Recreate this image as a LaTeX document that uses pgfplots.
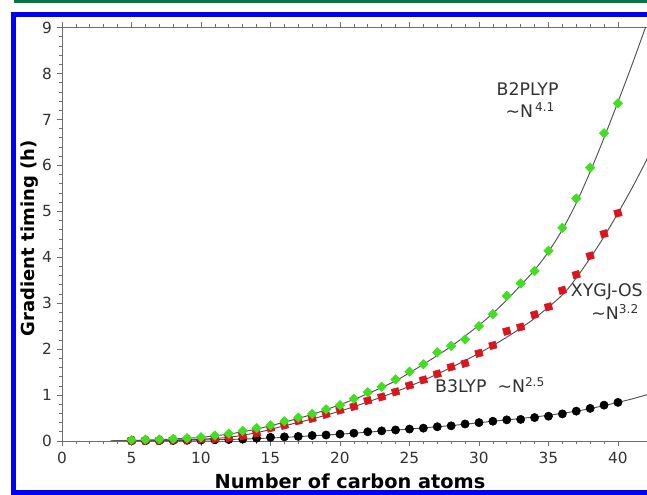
\documentclass[border=0pt]{standalone}
\usepackage{pgfplots}
\pgfplotsset{compat=1.18}
\usepackage{fontspec}
\setmainfont{DejaVu Sans}
\definecolor{frameblue}{RGB}{0,0,250}
\definecolor{topgreen}{RGB}{0,120,72}
\definecolor{mkgreen}{RGB}{64,224,32}
\definecolor{mkred}{RGB}{220,20,30}
\definecolor{fitgray}{RGB}{80,80,80}
\definecolor{axgray}{RGB}{110,110,110}
\definecolor{ticktext}{RGB}{50,50,50}
\begin{document}
\begin{tikzpicture}
\useasboundingbox (0,0) rectangle (485.25pt,371.25pt);
\clip (0,0) rectangle (485.25pt,371.25pt);
\fill[white] (0,0) rectangle (485.25pt,371.25pt);
% top rule and frame
\draw[topgreen, line width=2.25pt] (10.5pt,369.75pt) -- (490pt,369.75pt);
\draw[frameblue, line width=3.75pt] (500pt,360.4pt) -- (9.75pt,360.4pt) -- (9.75pt,2.2pt) -- (500pt,2.2pt);
\begin{axis}[
  scale only axis,
  anchor=south west,
  at={(46.5pt,40.5pt)},
  width=439.9pt, height=310.1pt,
  xmin=0, xmax=42.2, ymin=0, ymax=9,
  xtick={0,5,...,40}, ytick={0,1,...,9},
  minor x tick num=4, minor y tick num=4,
  xtick pos=both, xticklabel pos=lower, ytick pos=left,
  tick align=outside,
  major tick length=4pt, minor tick length=2.5pt,
  axis line style={axgray, line width=0.6pt},
  every tick/.style={axgray, line width=0.5pt},
  /pgf/number format/assume math mode=true,
  tick label style={font=\fontsize{11.5}{12}\selectfont, text=ticktext},
  xticklabel style={yshift=-1pt},
  xlabel={Number of carbon atoms},
  ylabel={Gradient timing (h)},
  xlabel style={font=\fontsize{14.5}{16}\selectfont\bfseries, at={(axis description cs:0.491,0)}, anchor=center, yshift=-30pt},
  ylabel style={font=\fontsize{13.5}{15}\selectfont\bfseries, at={(axis description cs:-0.055,0.49)}, anchor=center},
  clip=true,
]
% B3LYP data
\addplot[only marks, mark=*, mark size=3.1pt, mark options={draw=black, fill=black}] coordinates {
(5,0.003) (6,0.005) (7,0.008) (8,0.012) (9,0.016) (10,0.02) (11,0.026) (12,0.033) (13,0.04) (14,0.06)
(15,0.08) (16,0.09) (17,0.10) (18,0.12) (19,0.13) (20,0.15) (21,0.17) (22,0.20) (23,0.22) (24,0.24)
(25,0.26) (26,0.28) (27,0.31) (28,0.33) (29,0.37) (30,0.40) (31,0.43) (32,0.46) (33,0.47) (34,0.51)
(35,0.54) (36,0.59) (37,0.65) (38,0.71) (39,0.78) (40,0.84)};
% XYGJ-OS data
\addplot[only marks, mark=square*, mark size=2.6pt, mark options={draw=mkred, fill=mkred, rotate=15}] coordinates {
(5,0.01) (6,0.012) (7,0.015) (8,0.02) (9,0.025) (10,0.035) (11,0.05) (12,0.07) (13,0.11) (14,0.17)
(15,0.28) (16,0.34) (17,0.44) (18,0.49) (19,0.58) (20,0.67) (21,0.75) (22,0.88) (23,0.96) (24,1.07)
(25,1.21) (26,1.33) (27,1.46) (28,1.61) (29,1.69) (30,1.91) (31,2.08) (32,2.39) (33,2.48) (34,2.75)
(35,2.92) (36,3.28) (37,3.62) (38,4.03) (39,4.51) (40,4.96)};
% B2PLYP data
\addplot[only marks, mark=square*, mark size=2.5pt, mark options={draw=mkgreen, fill=mkgreen, rotate=45}] coordinates {
(5,0.02) (6,0.03) (7,0.035) (8,0.045) (9,0.06) (10,0.08) (11,0.12) (12,0.16) (13,0.22) (14,0.28)
(15,0.34) (16,0.43) (17,0.51) (18,0.59) (19,0.69) (20,0.78) (21,0.92) (22,1.06) (23,1.18) (24,1.34)
(25,1.51) (26,1.67) (27,1.93) (28,2.07) (29,2.21) (30,2.50) (31,2.76) (32,3.16) (33,3.43) (34,3.70)
(35,4.14) (36,4.64) (37,5.28) (38,5.95) (39,6.70) (40,7.35)};
% fitted curves
\addplot[fitgray, line width=0.7pt, smooth] coordinates {
(3.5,0) (5,0.003) (7,0.008) (9,0.016) (11,0.026) (13,0.042) (15,0.065) (17,0.095) (19,0.13) (21,0.17)
(23,0.215) (25,0.26) (27,0.31) (29,0.365) (31,0.43) (33,0.49) (35,0.56) (37,0.65) (38,0.705) (39,0.77)
(40,0.84) (41,0.915) (42,1.0) (42.2,1.02)};
\addplot[fitgray, line width=0.7pt, smooth] coordinates {
(3.5,0) (5,0.005) (7,0.015) (9,0.03) (10,0.04) (12,0.08) (14,0.18) (16,0.33) (18,0.48) (20,0.65)
(22,0.85) (24,1.07) (26,1.32) (28,1.60) (30,1.91) (32,2.26) (34,2.67) (36,3.18) (37,3.55) (38,3.98)
(39,4.45) (40,4.96) (41,5.50) (42,6.08) (42.2,6.2)};
\addplot[fitgray, line width=0.7pt, smooth] coordinates {
(3.5,0) (5,0.01) (7,0.03) (9,0.06) (10,0.08) (12,0.15) (14,0.26) (16,0.41) (18,0.58) (20,0.79)
(22,1.03) (24,1.31) (26,1.67) (28,2.06) (30,2.52) (31,2.78) (32,3.07) (33,3.39) (34,3.72) (35,4.12)
(36,4.60) (37,5.18) (38,5.86) (39,6.60) (40,7.38) (41,8.18) (42,9.02) (42.2,9.2)};
% annotations
\node[font=\fontsize{13}{14}\selectfont, text=ticktext] at (axis cs:33.5,7.67) {B2PLYP};
\node[font=\fontsize{13}{14}\selectfont, text=ticktext] at (axis cs:33.7,7.2) {\textasciitilde N\textsuperscript{\,4.1}};
\node[font=\fontsize{13}{14}\selectfont, text=ticktext] at (axis cs:39.2,3.24) {XYGJ-OS};
\node[font=\fontsize{13}{14}\selectfont, text=ticktext] at (axis cs:39.8,2.80) {\textasciitilde N\textsuperscript{3.2}};
\node[font=\fontsize{13}{14}\selectfont, text=ticktext] at (axis cs:30.8,1.22) {B3LYP \ \textasciitilde N\textsuperscript{2.5}};
\end{axis}
\end{tikzpicture}
\end{document}
